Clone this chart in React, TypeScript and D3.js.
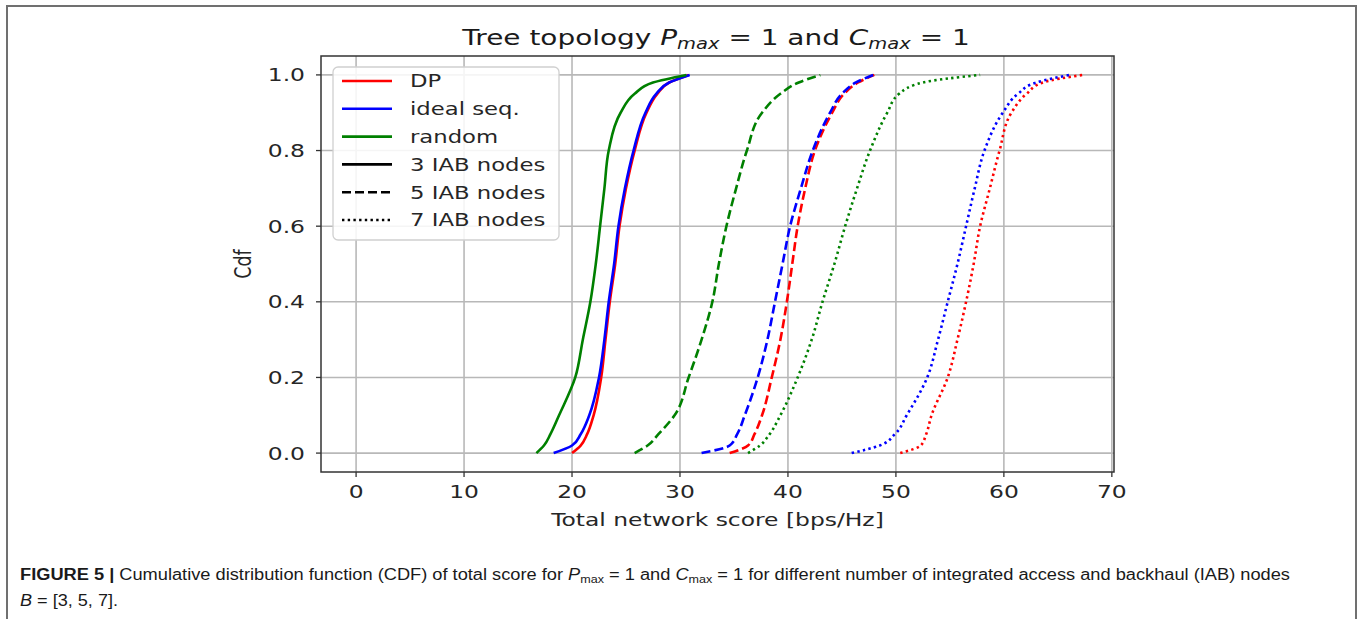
import React from 'react';
import * as d3 from 'd3';

// ---------- data ----------
const PROB = [0, 0.02, 0.05, 0.1, 0.2, 0.3, 0.4, 0.5, 0.6, 0.7, 0.8, 0.9, 0.95, 0.98, 1.0];

const DP_3 = [20.0, 20.8, 21.4, 22.0, 22.7, 23.1, 23.5, 24.0, 24.4, 25.0, 25.8, 26.9, 27.9, 29.0, 30.8];
const IDEAL_3 = [18.3, 20.0, 20.8, 21.6, 22.5, 23.0, 23.4, 23.9, 24.3, 24.9, 25.7, 26.8, 27.8, 29.0, 30.9];
const RANDOM_3 = [16.7, 17.4, 18.0, 18.8, 20.3, 21.0, 21.7, 22.2, 22.6, 23.0, 23.4, 24.5, 25.8, 27.5, 30.6];

const DP_5 = [34.6, 36.3, 36.9, 37.6, 38.5, 39.3, 39.9, 40.4, 40.9, 41.6, 42.5, 44.1, 45.2, 46.5, 48.0];
const IDEAL_5 = [32.0, 34.6, 35.3, 36.0, 37.2, 38.1, 38.8, 39.5, 40.2, 41.2, 42.3, 43.9, 45.0, 46.3, 47.9];
const RANDOM_5 = [25.8, 27.0, 28.0, 29.5, 30.8, 32.0, 33.0, 33.6, 34.3, 35.2, 36.2, 37.6, 39.3, 41.0, 43.0];

const DP_7 = [50.4, 52.3, 52.8, 53.3, 54.8, 55.7, 56.5, 57.2, 57.8, 58.7, 59.6, 60.7, 62.1, 63.6, 67.3];
const IDEAL_7 = [45.9, 48.5, 49.9, 51.0, 52.9, 53.9, 54.8, 55.7, 56.5, 57.3, 58.2, 59.9, 61.3, 63.0, 66.1];
const RANDOM_7 = [36.3, 37.4, 38.3, 39.3, 40.9, 42.2, 43.2, 44.3, 45.3, 46.4, 47.6, 49.2, 50.3, 52.5, 57.8];

const X_TICKS = [0, 10, 20, 30, 40, 50, 60, 70];
const Y_TICKS = [0, 0.2, 0.4, 0.6, 0.8, 1.0];

const METHODS = ['DP', 'ideal seq.', 'random'];
const NODE_LABELS = ['3 IAB nodes', '5 IAB nodes', '7 IAB nodes'];

// ---------- style ----------
const W = 1360;
const H = 619;
const SX = 1.3; // the reference figure is horizontally stretched
const FONT = 'DejaVu Sans, sans-serif';
const COLORS: Record<string, string> = { 'DP': '#ff0000', 'ideal seq.': '#0000ff', 'random': '#008000' };
const DASHES = [null, '9,4', '2.4,3.3'];

const SERIES = [
  { method: 'DP', nodes: 0, xs: DP_3 },
  { method: 'ideal seq.', nodes: 0, xs: IDEAL_3 },
  { method: 'random', nodes: 0, xs: RANDOM_3 },
  { method: 'DP', nodes: 1, xs: DP_5 },
  { method: 'ideal seq.', nodes: 1, xs: IDEAL_5 },
  { method: 'random', nodes: 1, xs: RANDOM_5 },
  { method: 'DP', nodes: 2, xs: DP_7 },
  { method: 'ideal seq.', nodes: 2, xs: IDEAL_7 },
  { method: 'random', nodes: 2, xs: RANDOM_7 },
];

function ST(props: { x: number; y: number; size: number; anchor?: string; rotate?: boolean; children: any; fill?: string }) {
  const { x, y, size, anchor = 'start', rotate = false, children, fill = '#262626' } = props;
  const t = `translate(${x},${y}) scale(${SX},1)` + (rotate ? ' rotate(-90)' : '');
  return (
    <text transform={t} fontFamily={FONT} fontSize={size} textAnchor={anchor} fill={fill}>
      {children}
    </text>
  );
}

export default function App() {
  const left = 321, right = 1114, top = 56, bottom = 472;
  const x = d3.scaleLinear().domain([-3.25, 70.2]).range([left, right]);
  const y = d3.scaleLinear().domain([-0.05, 1.05]).range([bottom, top]);
  const line = d3
    .line<[number, number]>()
    .x((d) => x(d[0]))
    .y((d) => y(d[1]))
    .curve(d3.curveMonotoneY);

  const legendRows = [
    ...METHODS.map((m) => ({ label: m, color: COLORS[m], dash: null as string | null })),
    ...NODE_LABELS.map((l, i) => ({ label: l, color: '#000', dash: DASHES[i] })),
  ];

  return (
    <div style={{ position: 'absolute', left: 0, top: 0, width: W, height: H, background: '#fff' }}>
      <svg width={W} height={H} style={{ display: 'block' }}>
        <rect x={0} y={0} width={W} height={H} fill="#fff" />
        {/* outer frame */}
        <rect x={7} y={6} width={1349} height={700} fill="none" stroke="#707070" strokeWidth={2} />

        {/* title */}
        <ST x={716} y={45} size={21.5} anchor="middle" fill="#1a1a1a">
          Tree topology{' '}
          <tspan fontStyle="italic">P</tspan>
          <tspan fontStyle="italic" fontSize={15} dy={4}>max</tspan>
          <tspan dy={-4}> = 1 and </tspan>
          <tspan fontStyle="italic">C</tspan>
          <tspan fontStyle="italic" fontSize={15} dy={4}>max</tspan>
          <tspan dy={-4}> = 1</tspan>
        </ST>

        {/* grid */}
        <g stroke="#b8b8b8" strokeWidth={1.6}>
          {X_TICKS.map((t) => (
            <line key={'gx' + t} x1={x(t)} x2={x(t)} y1={top} y2={bottom} />
          ))}
          {Y_TICKS.map((t) => (
            <line key={'gy' + t} x1={left} x2={right} y1={y(t)} y2={y(t)} />
          ))}
        </g>

        {/* curves */}
        <g fill="none" strokeWidth={2.6}>
          {SERIES.map((s, i) => (
            <path
              key={i}
              d={line(s.xs.map((v, j) => [v, PROB[j]] as [number, number])) || ''}
              stroke={COLORS[s.method]}
              strokeDasharray={DASHES[s.nodes] || undefined}
            />
          ))}
        </g>

        {/* spines */}
        <rect x={left} y={top} width={right - left} height={bottom - top} fill="none" stroke="#333" strokeWidth={1.5} />

        {/* ticks */}
        <g stroke="#333" strokeWidth={1.3}>
          {X_TICKS.map((t) => (
            <line key={'tx' + t} x1={x(t)} x2={x(t)} y1={bottom} y2={bottom + 5} />
          ))}
          {Y_TICKS.map((t) => (
            <line key={'ty' + t} x1={left - 5} x2={left} y1={y(t)} y2={y(t)} />
          ))}
        </g>
        {X_TICKS.map((t) => (
          <ST key={'lx' + t} x={x(t)} y={498} size={18} anchor="middle">
            {String(t)}
          </ST>
        ))}
        {Y_TICKS.map((t) => (
          <ST key={'ly' + t} x={305} y={y(t) + 6.5} size={18} anchor="end">
            {t.toFixed(1)}
          </ST>
        ))}

        {/* axis labels */}
        <ST x={(left + right) / 2} y={526} size={18} anchor="middle">
          Total network score [bps/Hz]
        </ST>
        <ST x={251} y={(top + bottom) / 2} size={17.5} anchor="middle" rotate>
          Cdf
        </ST>

        {/* legend */}
        <rect x={333} y={67} width={226} height={173} rx={5} fill="#fff" fillOpacity={0.85} stroke="#d0d0d0" strokeWidth={1.3} />
        {legendRows.map((r, i) => {
          const cy = 81 + i * 27.8;
          return (
            <g key={'lg' + i}>
              <line x1={342} x2={392} y1={cy} y2={cy} stroke={r.color} strokeWidth={2.6} strokeDasharray={r.dash || undefined} />
              <ST x={410} y={cy + 6.3} size={17.5}>
                {r.label}
              </ST>
            </g>
          );
        })}

        {/* caption */}
        <text x={20} y={580} fontFamily="Liberation Sans, Arial, sans-serif" fontSize={16} fill="#1a1a1a" textLength={1270} lengthAdjust="spacingAndGlyphs">
          <tspan fontWeight="bold">FIGURE 5 | </tspan>
          Cumulative distribution function (CDF) of total score for{' '}
          <tspan fontStyle="italic">P</tspan>
          <tspan fontSize={11} dy={3}>max</tspan>
          <tspan dy={-3}> = 1 and </tspan>
          <tspan fontStyle="italic">C</tspan>
          <tspan fontSize={11} dy={3}>max</tspan>
          <tspan dy={-3}> = 1 for different number of integrated access and backhaul (IAB) nodes</tspan>
        </text>
        <text x={20} y={606} fontFamily="Liberation Sans, Arial, sans-serif" fontSize={16} fill="#1a1a1a" textLength={98} lengthAdjust="spacingAndGlyphs">
          <tspan fontStyle="italic">B</tspan> = [3, 5, 7].
        </text>
      </svg>
    </div>
  );
}
